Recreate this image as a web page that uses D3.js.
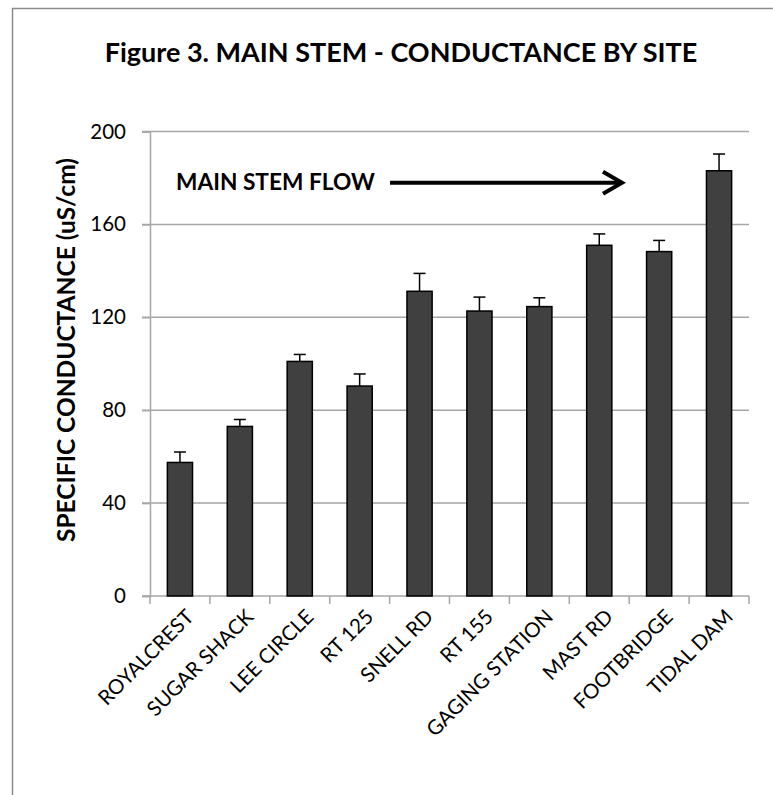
<!DOCTYPE html>
<html><head><meta charset="utf-8">
<script src="https://cdn.jsdelivr.net/npm/d3@7"></script>
<style>html,body{margin:0;padding:0;background:#fff;}svg{display:block;}</style>
</head><body>
<script>
const sites = ["ROYALCREST","SUGAR SHACK","LEE CIRCLE","RT 125","SNELL RD","RT 155","GAGING STATION","MAST RD","FOOTBRIDGE","TIDAL DAM"];
const means = [57.5, 73, 101, 90.4, 131.2, 122.7, 124.6, 151, 148.3, 183.1];
const errors = [4.5, 3, 3, 5.2, 7.7, 6, 3.8, 4.9, 4.8, 7.2];
const yTicks = [0, 40, 80, 120, 160, 200];
const title = "Figure 3. MAIN STEM - CONDUCTANCE BY SITE";
const yTitle = "SPECIFIC  CONDUCTANCE  (uS/cm)";
const annotation = "MAIN STEM FLOW";

(function () {
const W = 773, H = 795;
const font = "Lato, 'Open Sans', sans-serif";
const svg = d3.select("body").append("svg").attr("width", W).attr("height", H);

svg.append("rect").attr("x", 12.5).attr("y", 8.5).attr("width", 770).attr("height", 800)
  .attr("fill", "#fff").attr("stroke", "#8c8c8c").attr("stroke-width", 1.5);

const pLeft = 150, pRight = 749, pTop = 131.5, pBottom = 596;
const x = d3.scaleBand().domain(sites).range([pLeft, pRight]).paddingInner(0.58).paddingOuter(0.29);
const y = d3.scaleLinear().domain([0, 200]).range([pBottom, pTop]);

// gridlines
svg.append("g").selectAll("line").data(yTicks.filter(d => d > 0)).join("line")
  .attr("x1", pLeft - 8).attr("x2", pRight).attr("y1", d => y(d)).attr("y2", d => y(d))
  .attr("stroke", "#a6a6a6").attr("stroke-width", 1.5);

// y axis
const yAxis = svg.append("g").attr("transform", `translate(${pLeft},0)`)
  .call(d3.axisLeft(y).tickValues(yTicks).tickSize(8).tickPadding(16));
yAxis.select(".domain").attr("stroke", "#a6a6a6").attr("stroke-width", 1.5);
yAxis.selectAll(".tick line").attr("stroke", "#a6a6a6").attr("stroke-width", 1.5);
yAxis.selectAll(".tick text").attr("font-family", font).attr("font-size", 20.5).attr("fill", "#000");

// x axis line and ticks at category boundaries
const step = x.step();
const boundaries = d3.range(sites.length + 1).map(i => pLeft + i * step);
svg.append("line").attr("x1", pLeft - 8).attr("x2", pRight).attr("y1", pBottom).attr("y2", pBottom)
  .attr("stroke", "#a6a6a6").attr("stroke-width", 1.5);
svg.append("g").selectAll("line").data(boundaries).join("line")
  .attr("x1", d => d).attr("x2", d => d).attr("y1", pBottom).attr("y2", pBottom + 8)
  .attr("stroke", "#a6a6a6").attr("stroke-width", 1.5);

// bars
svg.append("g").selectAll("rect").data(sites).join("rect")
  .attr("x", d => x(d)).attr("width", x.bandwidth())
  .attr("y", (d, i) => y(means[i])).attr("height", (d, i) => y(0) - y(means[i]))
  .attr("fill", "#404040").attr("stroke", "#000").attr("stroke-width", 1.5);

// error bars
const eb = svg.append("g").attr("stroke", "#000").attr("stroke-width", 1.5);
sites.forEach((s, i) => {
  const cx = x(s) + x.bandwidth() / 2;
  eb.append("line").attr("x1", cx).attr("x2", cx).attr("y1", y(means[i])).attr("y2", y(means[i] + errors[i]));
  eb.append("line").attr("x1", cx - 6).attr("x2", cx + 6).attr("y1", y(means[i] + errors[i])).attr("y2", y(means[i] + errors[i]));
});

// x labels
svg.append("g").selectAll("text").data(sites).join("text")
  .attr("transform", d => `translate(${x(d) + x.bandwidth() / 2 + 10},${pBottom + 17}) rotate(-45)`)
  .attr("text-anchor", "end").attr("dy", "0.35em")
  .attr("font-family", font).attr("font-size", 20.5).text(d => d);

// y title
svg.append("text").attr("transform", `translate(75,350) rotate(-90)`)
  .attr("text-anchor", "middle").attr("font-family", font).attr("font-weight", "bold")
  .attr("font-size", 24.5).text(yTitle);

// title
svg.append("text").attr("x", 401).attr("y", 62).attr("text-anchor", "middle")
  .attr("font-family", font).attr("font-weight", "bold").attr("font-size", 27).text(title);

// annotation
svg.append("text").attr("x", 176).attr("y", 190).attr("font-family", font).attr("font-weight", "bold")
  .attr("font-size", 22.7).text(annotation);
svg.append("line").attr("x1", 390).attr("x2", 621).attr("y1", 182.7).attr("y2", 182.7)
  .attr("stroke", "#000").attr("stroke-width", 4);
svg.append("path").attr("d", "M603,171.7 L622,182.7 L603,193.7").attr("fill", "none")
  .attr("stroke", "#000").attr("stroke-width", 4).attr("stroke-linejoin", "miter");
})();
</script>
</body></html>
